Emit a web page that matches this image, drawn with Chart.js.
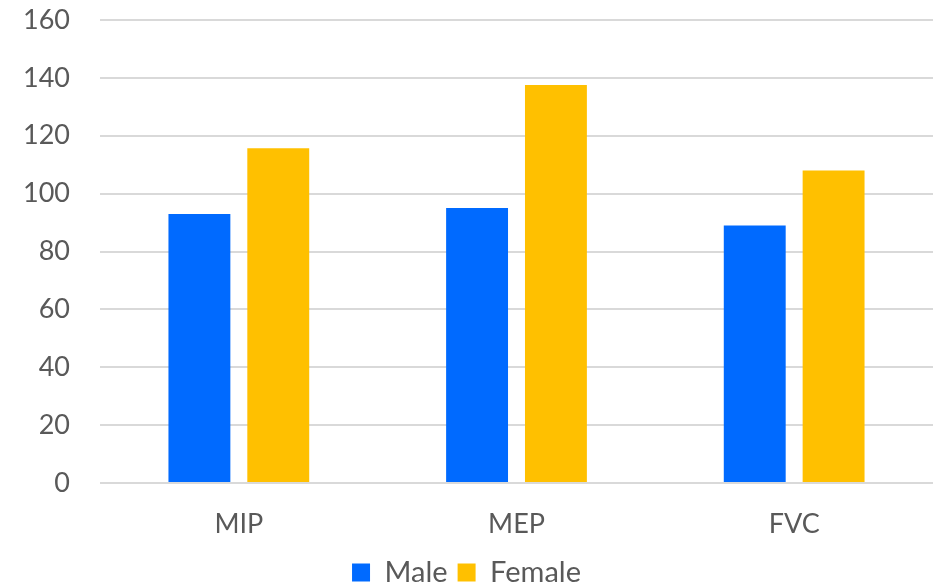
<!DOCTYPE html>
<html>
<head>
<meta charset="utf-8">
<script src="https://cdn.jsdelivr.net/npm/chart.js@4/dist/chart.umd.min.js"></script>
<style>
  html, body { margin: 0; padding: 0; background: #ffffff; }
  #wrap { width: 941px; height: 586px; position: relative; }
</style>
</head>
<body>
<div id="wrap"><canvas id="chart" width="941" height="586"></canvas></div>
<script>
// Respiratory pressure / capacity measures by sex
const categories = ['MIP', 'MEP', 'FVC'];
const maleValues = [93, 95, 89];
const femaleValues = [115.7, 137.5, 108];
const seriesNames = ['Male', 'Female'];

const textColor = '#595959';
const fontFamily = 'Lato, "Open Sans", sans-serif';
const fontSize = 27;

new Chart(document.getElementById('chart'), {
  type: 'bar',
  data: {
    labels: categories,
    datasets: [
      { label: seriesNames[0], data: maleValues, backgroundColor: '#006AFF', borderWidth: 0 },
      { label: seriesNames[1], data: femaleValues, backgroundColor: '#FFC000', borderWidth: 0 }
    ]
  },
  options: {
    responsive: false,
    animation: false,
    devicePixelRatio: 1,
    categoryPercentage: 0.568,
    barPercentage: 0.785,
    layout: { padding: { top: 20, right: 8, left: 0, bottom: -11 } },
    plugins: {
      tooltip: { enabled: false },
      legend: {
        position: 'bottom',
        labels: {
          color: textColor,
          font: { family: fontFamily, size: 29 },
          boxWidth: 18,
          boxHeight: 18,
          padding: 10
        }
      }
    },
    scales: {
      x: {
        grid: { display: false },
        border: { display: false },
        ticks: {
          color: textColor,
          font: { family: fontFamily, size: fontSize },
          padding: 17
        },
        afterFit: (scale) => { scale.height = 65; }
      },
      y: {
        min: 0,
        max: 160,
        grid: { color: '#D9D9D9', lineWidth: 2, drawTicks: false },
        border: { display: false },
        ticks: {
          stepSize: 20,
          color: textColor,
          font: { family: fontFamily, size: fontSize },
          padding: 30
        },
        afterFit: (scale) => {
          scale.width = 100;
          scale.paddingTop = 0;
          scale.paddingBottom = 0;
        }
      }
    }
  }
});
</script>
</body>
</html>
